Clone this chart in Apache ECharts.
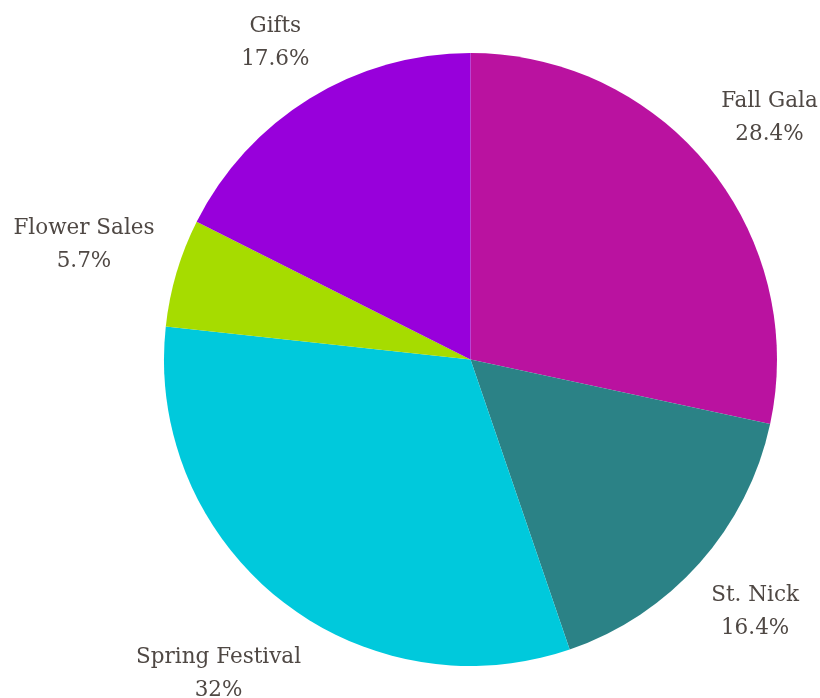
<!DOCTYPE html>
<html>
<head>
<meta charset="utf-8">
<script src="https://cdn.jsdelivr.net/npm/echarts@6/dist/echarts.min.js"></script>
<style>
html,body{margin:0;padding:0;background:#fff;}
#chart{width:820px;height:698px;}
</style>
</head>
<body>
<div id="chart"></div>
<script>
const categories = ['Fall Gala', 'St. Nick', 'Spring Festival', 'Flower Sales', 'Gifts'];
const values = [28.4, 16.4, 32, 5.7, 17.6];
const colors = ['#BA12A0', '#2B8286', '#00C9DC', '#A6DC00', '#9800DB'];

const total = values.reduce((a, b) => a + b, 0);
const CX = 470.5, CY = 359.5, RADIUS = 306.5, LABEL_GAP_R = 326;
const chart = echarts.init(document.getElementById('chart'));

// direction of each slice's mid-angle (clockwise from top)
let acc = 0;
const dirs = values.map(v => {
  const mid = (acc + v / 2) / total * Math.PI * 2;
  acc += v;
  return [Math.sin(mid), -Math.cos(mid)];
});

chart.setOption({
  animation: false,
  series: [{
    type: 'pie',
    center: [CX, CY],
    radius: RADIUS,
    startAngle: 90,
    clockwise: true,
    data: categories.map((c, i) => ({ name: c, value: values[i], itemStyle: { color: colors[i] } })),
    label: {
      show: true,
      position: 'outside',
      formatter: p => p.name + '\n' + p.value + '%',
      fontFamily: 'DejaVu Serif',
      fontSize: 21.5,
      lineHeight: 33,
      color: '#4f4844',
      overflow: 'none'
    },
    labelLine: { show: false, length: 20, length2: 0 },
    labelLayout: function (params) {
      const d = dirs[params.dataIndex];
      const r = params.labelRect;
      const a = r.width / 2, b = r.height / 2;
      const dist = LABEL_GAP_R + a * Math.abs(d[0]) + b * Math.abs(d[1]);
      return {
        x: CX + d[0] * dist,
        y: CY + d[1] * dist,
        align: 'center',
        verticalAlign: 'middle'
      };
    }
  }]
});
</script>
</body>
</html>
